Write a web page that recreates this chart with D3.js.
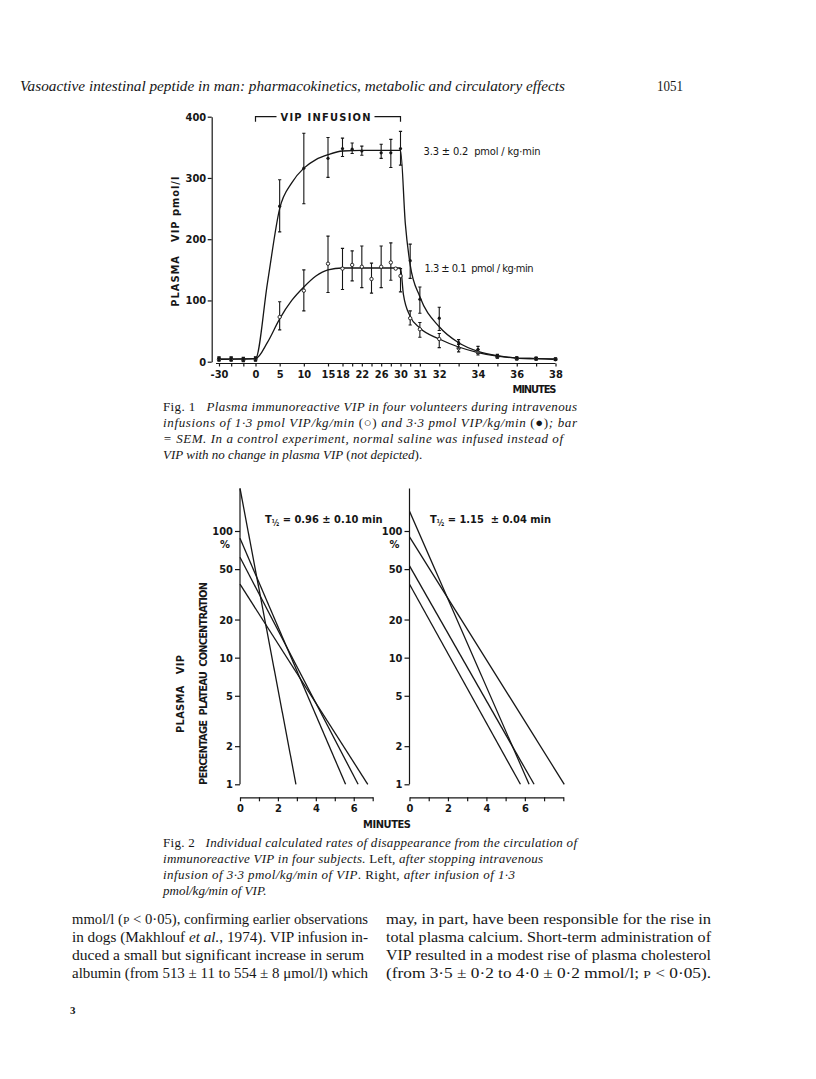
<!DOCTYPE html>
<html>
<head>
<meta charset="utf-8">
<script src="https://cdn.jsdelivr.net/npm/d3@7"></script>
<style>
  body { margin: 0; background: #fff; }
  svg { display: block; }
  .fig text { font-family: 'Liberation Sans Narrow', 'DejaVu Sans Condensed', 'Arial Narrow', sans-serif; font-weight: bold; font-size: 11px; fill: #161616; }
  .fig .domain, .fig .tick line { stroke: #161616; stroke-width: 1.2; }
  .serif { font-family: 'Liberation Serif', 'Times New Roman', serif; fill: #161616; white-space: pre; }
</style>
</head>
<body>
<svg id="page" width="816" height="1079"></svg>
<script>
// Fig. 1 – plasma VIP during infusion (means with SEM bars)
const fig1YTicks = [0, 100, 200, 300, 400];
const fig1TickTimes = [-30, -20, -10, 0, 5, 10, 15, 18, 20, 22, 24, 26, 28, 30, 30.5, 31, 32, 33, 34, 35, 36, 37, 38];
const fig1TickLabels = [-30, 0, 5, 10, 15, 18, 22, 26, 30, 31, 32, 34, 36, 38];

// 3.3 pmol/kg/min
const highTime = [-30, -20, -10, 0, 5, 10, 15, 18, 20, 22, 26, 28, 30, 30.5, 31, 32, 33, 34, 35, 36, 37, 38];
const highMean = [5, 5, 4, 5, 254, 316, 332, 348, 347, 344, 341, 341, 348, 165, 102, 71, 31, 20, 9, 6, 5, 4];
const highLo   = [2, 2, 1, 2, 212, 258, 301, 335, 340, 337, 332, 317, 321, 136, 79, 51, 22, 14, 6, 4, 3, 2];
const highHi   = [8, 8, 7, 8, 297, 373, 366, 365, 357, 352, 355, 363, 376, 192, 122, 89, 36, 25, 12, 8, 7, 6];

// 1.3 pmol/kg/min
const lowTime = [-30, -20, -10, 0, 5, 10, 15, 18, 20, 22, 24, 26, 28, 29, 30, 30.5, 31, 32, 33, 34, 35, 36, 37, 38];
const lowMean = [4, 4, 3, 4, 73, 116, 160, 152, 158, 155, 135, 155, 162, 152, 140, 71, 53, 37, 22, 15, 8, 5, 5, 4];
const lowLo   = [1, 1, 0, 1, 52, 83, 113, 118, 132, 121, 112, 121, 133, 152, 114, 60, 40, 23, 16, 11, 6, 3, 3, 2];
const lowHi   = [7, 7, 6, 7, 98, 150, 205, 185, 181, 189, 161, 189, 194, 152, 152, 83, 64, 46, 28, 20, 10, 7, 7, 6];

// fitted curves
const highFitTime = [-30, 0, 2.5, 5, 7.5, 10, 12.5, 15, 18, 22, 30, 30.25, 30.5, 31, 32, 33, 34, 35, 36, 37, 38];
const highFitVal  = [4, 5, 130, 250, 292, 316, 330, 338, 344, 345, 345, 225, 158, 106, 57, 31, 17, 10, 6, 5, 4];
const lowFitTime = [-30, 0, 2.5, 5, 7.5, 10, 12.5, 15, 18, 30, 30.15, 30.5, 31, 32, 33, 34, 35, 36, 37, 38];
const lowFitVal  = [4, 5, 32, 70, 100, 122, 140, 150, 153, 153, 110, 74, 55, 37, 24, 15, 9, 6, 5, 4];

// Fig. 2 – percentage plateau concentration vs minutes (log scale)
const fig2YTicks = [1, 2, 5, 10, 20, 50, 100];
const leftMinutes = [0, 1, 2, 3, 4, 5, 6, 7];
const rightMinutes = [0, 1, 2, 3, 4, 5, 6, 7, 8];
const fig2XLabels = [0, 2, 4, 6];
const leftStart = [217, 87.5, 62, 38];       // % at t = 0
const leftEnd = [2.95, 5.57, 6.23, 6.74];    // minutes at which 1 % is reached
const rightStart = [143, 90, 53, 38];
const rightEnd = [6.22, 8.05, 6.48, 5.77];

const svg = d3.select('#page');
const ink = '#161616';

// ---------- page header ----------
svg.append('text').attr('class', 'serif').attr('x', 20).attr('y', 91)
  .style('font-style', 'italic').style('font-size', '15px')
  .attr('textLength', 545).attr('lengthAdjust', 'spacingAndGlyphs')
  .text('Vasoactive intestinal peptide in man: pharmacokinetics, metabolic and circulatory effects');
svg.append('text').attr('class', 'serif').attr('x', 657).attr('y', 91)
  .style('font-size', '15px').attr('textLength', 26).attr('lengthAdjust', 'spacingAndGlyphs')
  .text('1051');

// ---------- Fig. 1 ----------
const x1 = d3.scaleLinear().domain([-30, 0, 30, 38]).range([219, 255.5, 400.5, 555.5]);
const y1 = d3.scaleLinear().domain([0, 400]).range([361.7, 116.7]);
const g1 = svg.append('g').attr('class', 'fig');

g1.append('g').attr('transform', 'translate(211.7,0)')
  .call(d3.axisLeft(y1).tickValues(fig1YTicks).tickSize(4).tickSizeOuter(0).tickPadding(1.5));

g1.append('g').attr('transform', 'translate(0,363.5)')
  .call(d3.axisBottom(x1).tickValues(fig1TickTimes).tickSize(3).tickSizeOuter(0).tickPadding(4)
    .tickFormat(d => fig1TickLabels.includes(d) ? String(d) : ''))
  .call(g => g.select('.domain').attr('d', `M${x1(-30) - 3},0H${x1(38)}`));

g1.append('text')
  .attr('transform', 'translate(179,241.7) rotate(-90)')
  .attr('text-anchor', 'middle').attr('textLength', 130).attr('lengthAdjust', 'spacing')
  .style('white-space', 'pre')
  .text('PLASMA   VIP pmol/l');

g1.append('text').attr('x', 556.5).attr('y', 393).attr('text-anchor', 'end')
  .attr('textLength', 44).attr('lengthAdjust', 'spacing').text('MINUTES');

const fitLine = d3.line().x(d => x1(d.t)).y(d => y1(d.v)).curve(d3.curveMonotoneX);
[[highFitTime, highFitVal], [lowFitTime, lowFitVal]].forEach(([ts, vs]) => {
  g1.append('path').datum(ts.map((t, i) => ({ t, v: vs[i] })))
    .attr('d', fitLine).attr('fill', 'none').attr('stroke', ink).attr('stroke-width', 1.3);
});

function drawSeries(ts, m, lo, hi, open) {
  const pts = ts.map((t, i) => ({ t, m: m[i], lo: lo[i], hi: hi[i] }));
  const bars = g1.append('g').attr('stroke', ink).attr('stroke-width', 1.1);
  bars.selectAll('.eb').data(pts).enter().append('path')
    .attr('d', d => {
      const x = x1(d.t), a = y1(d.lo), b = y1(d.hi);
      return `M${x},${a}V${b}M${x - 1.6},${a}H${x + 1.6}M${x - 1.6},${b}H${x + 1.6}`;
    });
  g1.append('g').selectAll('circle').data(pts).enter().append('circle')
    .attr('cx', d => x1(d.t)).attr('cy', d => y1(d.m)).attr('r', open ? 1.7 : 1.6)
    .attr('fill', open ? '#fff' : ink).attr('stroke', ink).attr('stroke-width', open ? 0.9 : 0);
}
drawSeries(lowTime, lowMean, lowLo, lowHi, true);
drawSeries(highTime, highMean, highLo, highHi, false);

// infusion bracket
const brY = y1(400);
g1.append('text').attr('x', 325.5).attr('y', brY + 3.8).attr('text-anchor', 'middle')
  .attr('textLength', 90).attr('lengthAdjust', 'spacing').text('VIP INFUSION');
g1.append('path').attr('fill', 'none').attr('stroke', ink).attr('stroke-width', 1.2)
  .attr('d', `M${x1(0)},${brY + 5}V${brY}H${325.5 - 49}M${325.5 + 49},${brY}H${x1(30)}V${brY + 5}`);

g1.append('text').attr('x', 423.5).attr('y', 155).attr('textLength', 117).attr('lengthAdjust', 'spacing')
  .style('font-weight', 'normal').style('white-space', 'pre').text('3.3 ± 0.2  pmol / kg·min');
g1.append('text').attr('x', 424.5).attr('y', 272).attr('textLength', 109).attr('lengthAdjust', 'spacing')
  .style('font-weight', 'normal').style('white-space', 'pre').text('1.3 ± 0.1  pmol / kg·min');

// ---------- Fig. 2 ----------
const yL = d3.scaleLog().domain([1, 100]).range([784.3, 531]);
const xL = d3.scaleLinear().domain([0, 7]).range([240, 372.7]);
const xR = d3.scaleLinear().domain([0, 8]).range([409.5, 563.3]);
const g2 = svg.append('g').attr('class', 'fig');
const axisTop = d3.max(leftStart);

function panel(xs, minutes, starts, ends, label, labelX) {
  const ax0 = xs.range()[0];
  g2.append('g').attr('transform', `translate(${ax0},0)`)
    .call(d3.axisLeft(yL).tickValues(fig2YTicks).tickFormat(d3.format('d')).tickSize(5).tickSizeOuter(0).tickPadding(2))
    .call(g => g.select('.domain').attr('d', `M0,${yL(1)}V${yL(axisTop)}`));
  g2.append('text').attr('x', ax0 - 15).attr('y', yL(100) + 17).attr('text-anchor', 'middle').text('%');
  g2.append('g').attr('transform', 'translate(0,797.3)')
    .call(d3.axisBottom(xs).tickValues(minutes).tickSize(4).tickSizeOuter(0).tickPadding(3)
      .tickFormat(d => fig2XLabels.includes(d) ? String(d) : ''));
  const ln = d3.line().x(d => xs(d[0])).y(d => yL(d[1]));
  starts.forEach((s, i) => {
    g2.append('path').datum([[0, s], [ends[i], 1]]).attr('d', ln)
      .attr('fill', 'none').attr('stroke', ink).attr('stroke-width', 1.3);
  });
  const t = g2.append('text').attr('x', labelX).attr('y', 523).style('white-space', 'pre');
  t.append('tspan').text('T');
  t.append('tspan').attr('dy', 3).style('font-size', '8px').text('½');
  t.append('tspan').attr('dy', -3).text(label);
}
panel(xL, leftMinutes, leftStart, leftEnd, ' = 0.96 ± 0.10 min', 265);
panel(xR, rightMinutes, rightStart, rightEnd, ' = 1.15  ± 0.04 min', 430);

g2.append('text').attr('transform', 'translate(184,694) rotate(-90)').attr('text-anchor', 'middle')
  .attr('textLength', 78).attr('lengthAdjust', 'spacing').style('white-space', 'pre').text('PLASMA   VIP');
g2.append('text').attr('transform', 'translate(207,683.5) rotate(-90)').attr('text-anchor', 'middle')
  .attr('textLength', 203).attr('lengthAdjust', 'spacing').style('white-space', 'pre')
  .text('PERCENTAGE  PLATEAU  CONCENTRATION');
g2.append('text').attr('x', 387).attr('y', 828).attr('text-anchor', 'middle')
  .attr('textLength', 48).attr('lengthAdjust', 'spacing').text('MINUTES');

// ---------- captions and body text ----------
const cap1Lines = [
  [['Fig. 1', 0], ['   Plasma immunoreactive VIP in four volunteers during intravenous', 1]],
  [['infusions of 1·3 pmol VIP/kg/min ', 1], ['(○)', 0], [' and 3·3 pmol VIP/kg/min ', 1], ['(●)', 0], ['; bar', 1]],
  [['= SEM. In a control experiment, normal saline was infused instead of', 1]],
  [['VIP with no change in plasma VIP ', 1], ['(', 0], ['not depicted', 1], [').', 0]]
];
const cap1Width = [414, 414, 400, null];
const cap2Lines = [
  [['Fig. 2', 0], ['   Individual calculated rates of disappearance from the circulation of', 1]],
  [['immunoreactive VIP in four subjects. ', 1], ['Left, ', 0], ['after stopping intravenous', 1]],
  [['infusion of 3·3 pmol/kg/min of VIP', 1], ['. Right, ', 0], ['after infusion of 1·3', 1]],
  [['pmol/kg/min of VIP.', 1]]
];
const cap2Width = [414, 380, 352, null];
const bodyLeft = [
  [['mmol/l (', 0], ['P', 2], [' < 0·05), confirming earlier observations', 0]],
  [['in dogs (Makhlouf ', 0], ['et al.', 1], [', 1974). VIP infusion in-', 0]],
  [['duced a small but significant increase in serum', 0]],
  [['albumin (from 513 ± 11 to 554 ± 8 μmol/l) which', 0]]
];
const bodyRight = [
  [['may, in part, have been responsible for the rise in', 0]],
  [['total plasma calcium. Short-term administration of', 0]],
  [['VIP resulted in a modest rise of plasma cholesterol', 0]],
  [['(from 3·5 ± 0·2 to 4·0 ± 0·2 mmol/l; ', 0], ['P', 2], [' < 0·05).', 0]]
];

function textBlock(lines, widths, x, y0, step, size, adjust) {
  lines.forEach((segs, i) => {
    const t = svg.append('text').attr('class', 'serif').attr('x', x).attr('y', y0 + i * step)
      .style('font-size', size + 'px');
    if (widths[i]) t.attr('textLength', widths[i]).attr('lengthAdjust', adjust);
    segs.forEach(([s, k]) => {
      const sp = t.append('tspan').text(s);
      if (k === 1) sp.style('font-style', 'italic');
      if (k === 2) sp.style('font-size', (size - 3) + 'px');
    });
  });
}
textBlock(cap1Lines, cap1Width, 163, 411, 16, 13, 'spacing');
textBlock(cap2Lines, cap2Width, 163, 847, 16, 13, 'spacing');
textBlock(bodyLeft, [296, 296, 292, 296], 72, 924, 18, 14.3, 'spacingAndGlyphs');
textBlock(bodyRight, [325, 325, 325, 325], 386, 924, 18, 14.3, 'spacingAndGlyphs');

svg.append('text').attr('class', 'serif').attr('x', 70).attr('y', 1014)
  .style('font-size', '11px').style('font-weight', 'bold').text('3');
</script>
</body>
</html>
